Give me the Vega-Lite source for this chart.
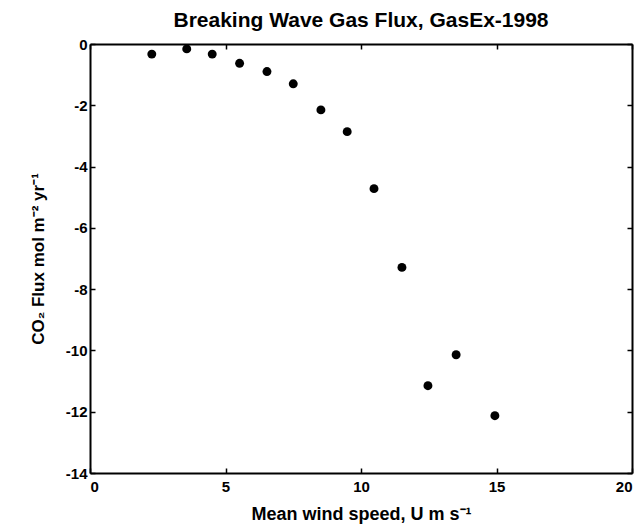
{
  "$schema": "https://vega.github.io/schema/vega-lite/v6.json",
  "width": 542,
  "height": 429,
  "autosize": {"type": "none"},
  "padding": {"left": 90, "top": 44, "right": 11, "bottom": 53},
  "background": "white",
  "title": {
    "text": "Breaking Wave Gas Flux, GasEx-1998",
    "font": "Liberation Sans",
    "fontSize": 21,
    "fontWeight": "bold",
    "color": "black",
    "offset": 6,
    "anchor": "middle"
  },
  "config": {
    "view": {"stroke": null},
    "axis": {
      "labelFont": "Liberation Sans",
      "labelFontSize": 15,
      "labelFontWeight": "bold",
      "labelColor": "black",
      "titleFont": "Liberation Sans",
      "titleFontSize": 17,
      "titleFontWeight": "bold",
      "titleColor": "black",
      "domainColor": "black",
      "domainWidth": 2,
      "tickColor": "black",
      "tickWidth": 1.5,
      "tickSize": -5,
      "grid": false
    }
  },
  "data": {
    "values": [
      {"u": 2.28, "flux": -0.33},
      {"u": 3.57, "flux": -0.16},
      {"u": 4.51, "flux": -0.33},
      {"u": 5.52, "flux": -0.63},
      {"u": 6.53, "flux": -0.9},
      {"u": 7.5, "flux": -1.3},
      {"u": 8.52, "flux": -2.15},
      {"u": 9.49, "flux": -2.86},
      {"u": 10.48, "flux": -4.72},
      {"u": 11.51, "flux": -7.29},
      {"u": 12.47, "flux": -11.15},
      {"u": 13.51, "flux": -10.14},
      {"u": 14.94, "flux": -12.13}
    ]
  },
  "layer": [
    {
      "mark": {"type": "point", "filled": true, "color": "black", "opacity": 1, "size": 80},
      "encoding": {
        "x": {
          "field": "u", "type": "quantitative",
          "scale": {"domain": [0, 20], "nice": false, "zero": false},
          "axis": {"orient": "bottom", "values": [0, 5, 10, 15, 20], "title": "Mean wind speed, U m s⁻¹", "titleFontSize": 18, "labelPadding": 11, "titlePadding": 11}
        },
        "y": {
          "field": "flux", "type": "quantitative",
          "scale": {"domain": [-14, 0], "nice": false, "zero": false},
          "axis": {"orient": "left", "values": [-14, -12, -10, -8, -6, -4, -2, 0], "labelExpr": "replace(datum.label, '−', '-')", "title": "CO₂ Flux mol m⁻² yr⁻¹", "labelPadding": 8, "titlePadding": 18}
        }
      }
    },
    {
      "mark": {"type": "point", "filled": true, "opacity": 0},
      "encoding": {
        "x": {
          "field": "u", "type": "quantitative",
          "scale": {"domain": [0, 20], "nice": false, "zero": false},
          "axis": {"orient": "top", "values": [0, 5, 10, 15, 20], "labels": false, "title": null}
        },
        "y": {
          "field": "flux", "type": "quantitative",
          "scale": {"domain": [-14, 0], "nice": false, "zero": false},
          "axis": {"orient": "right", "values": [-14, -12, -10, -8, -6, -4, -2, 0], "labels": false, "title": null}
        }
      }
    }
  ],
  "resolve": {"axis": {"x": "independent", "y": "independent"}}
}
